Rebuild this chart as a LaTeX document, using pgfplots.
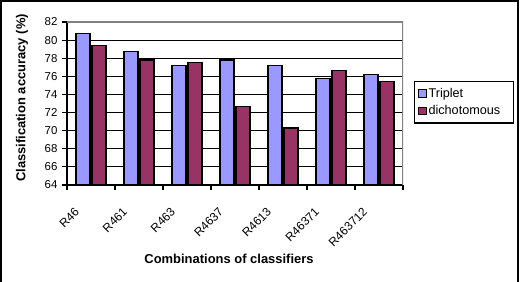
\documentclass[border=0pt]{standalone}
\usepackage{pgfplots}
\pgfplotsset{compat=1.18}
\usepackage{fontspec}
\setmainfont{Liberation Sans}
\definecolor{trip}{HTML}{9999FF}
\definecolor{dich}{HTML}{993366}
\begin{document}
\begin{tikzpicture}[font=\fontsize{10.5}{12}\selectfont]
\path[use as bounding box] (0bp,0bp) rectangle (520bp,282bp);
\draw[line width=2bp] (1bp,0bp) -- (1bp,281bp) -- (518bp,281bp) -- (518bp,0bp);
\begin{axis}[
  at={(67bp,97bp)}, anchor=south west,
  scale only axis, width=336bp, height=163bp,
  ybar, bar width=14bp,
  ymin=64, ymax=82, ytick={64,66,...,82},
  xmin=-0.5, xmax=6.5,
  xtick={-0.5,0.5,...,6.5}, xticklabels={},
  extra x ticks={0,1,2,3,4,5,6},
  extra x tick labels={R46,R461,R463,R4637,R4613,R46371,R463712},
  extra x tick style={major tick length=0pt,
    xticklabel style={rotate=45, anchor=north east, xshift=-24bp, yshift=0bp,
      font=\fontsize{12}{14}\selectfont}},
  axis x line*=bottom, axis y line*=left,
  axis line style={black, line width=1.5bp},
  tick style={black, line width=1.2bp},
  major tick length=5bp,
  xtick align=outside, ytick align=outside,
  ymajorgrids, major grid style={black, line width=1bp},
  /pgf/number format/assume math mode=true,
  yticklabel style={font=\fontsize{11.5}{13}\selectfont, xshift=-1bp},
  legend style={at={(rel axis cs:1.0327,0.638)}, anchor=north west,
    draw=black, line width=1.3bp, inner xsep=3bp, inner ysep=3bp,
    legend cell align=left, row sep=0bp,
    font=\fontsize{12.7}{15}\selectfont,
    nodes={inner xsep=2bp, inner ysep=3.5bp, text width=80bp}},
  legend image code/.code={\draw[#1, line width=0.9bp] (0bp,-3.8bp) rectangle (8bp,3.8bp);},
]
\addplot[fill=trip, draw=black, line width=1.2bp] coordinates {(0,80.7) (1,78.7) (2,77.2) (3,77.8) (4,77.2) (5,75.8) (6,76.2)};
\addlegendentry{Triplet}
\addplot[fill=dich, draw=black, line width=1.2bp] coordinates {(0,79.4) (1,77.8) (2,77.55) (3,72.65) (4,70.3) (5,76.6) (6,75.45)};
\addlegendentry{dichotomous}
\draw[gray, line width=1.5bp] (rel axis cs:0,1) -- (rel axis cs:1,1) -- (rel axis cs:1,0);
\end{axis}
\node[rotate=90, font=\bfseries\fontsize{13}{15}\selectfont] at (22bp,184bp) {Classification accuracy (\%)};
\node[font=\bfseries\fontsize{13}{15}\selectfont] at (229bp,23bp) {Combinations of classifiers};
\end{tikzpicture}
\end{document}
